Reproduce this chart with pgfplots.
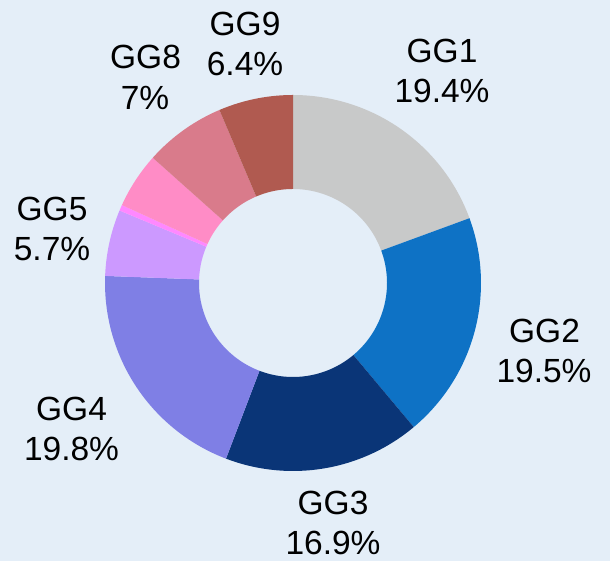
\documentclass[border=0pt]{standalone}
\usepackage{pgfplots}
\pgfplotsset{compat=1.18}
\usepackage{fontspec}
\setmainfont{Liberation Sans}
\definecolor{bgc}{HTML}{E4EEF8}
\definecolor{c1}{HTML}{C8C9C9}
\definecolor{c2}{HTML}{0E72C5}
\definecolor{c3}{HTML}{0A3577}
\definecolor{c4}{HTML}{7F7FE5}
\definecolor{c5}{HTML}{CC99FF}
\definecolor{c6}{HTML}{FF88FF}
\definecolor{c7}{HTML}{FF8CC6}
\definecolor{c8}{HTML}{D97B8B}
\definecolor{c9}{HTML}{B05A50}
% #1 cumulative start (percent), #2 slice value (percent), #3 colour
\newcommand{\slice}[3]{%
\addplot[fill=#3, draw=none, samples at={0,1,...,100}, variable=\t]
 ({293+((\t<51)*188+(\t>50)*94)*cos(90-3.6*(#1+#2*((\t<51)*\t/50+(\t>50)*(100-\t)/49)))},
  {278+((\t<51)*188+(\t>50)*94)*sin(90-3.6*(#1+#2*((\t<51)*\t/50+(\t>50)*(100-\t)/49)))}) -- cycle;
}
\newcommand{\lab}[3]{\node[anchor=base, inner sep=0pt, font=\fontsize{33.5}{40}\selectfont] at (axis cs:#1,#2) {#3};}
\begin{document}
\begin{tikzpicture}
\fill[bgc] (0,0) rectangle (610pt,561pt);
\begin{axis}[scale only axis, width=610pt, height=561pt,
  xmin=0, xmax=610, ymin=0, ymax=561, hide axis, clip=false]
\slice{0}{19.4}{c1}
\slice{19.4}{19.5}{c2}
\slice{38.9}{16.9}{c3}
\slice{55.8}{19.8}{c4}
\slice{75.6}{5.7}{c5}
\slice{81.3}{0.5}{c6}
\slice{81.8}{4.8}{c7}
\slice{86.6}{7.0}{c8}
\slice{93.6}{6.4}{c9}
\lab{442}{498.3}{GG1}
\lab{442}{458}{19.4\%}
\lab{544.5}{218.3}{GG2}
\lab{544}{178.3}{19.5\%}
\lab{333}{46}{GG3}
\lab{333}{6}{16.9\%}
\lab{71.5}{140}{GG4}
\lab{71.5}{100}{19.8\%}
\lab{52}{340}{GG5}
\lab{52}{300}{5.7\%}
\lab{145.5}{492}{GG8}
\lab{145}{451}{7\%}
\lab{245}{525}{GG9}
\lab{245}{485}{6.4\%}
\end{axis}
\end{tikzpicture}
\end{document}
